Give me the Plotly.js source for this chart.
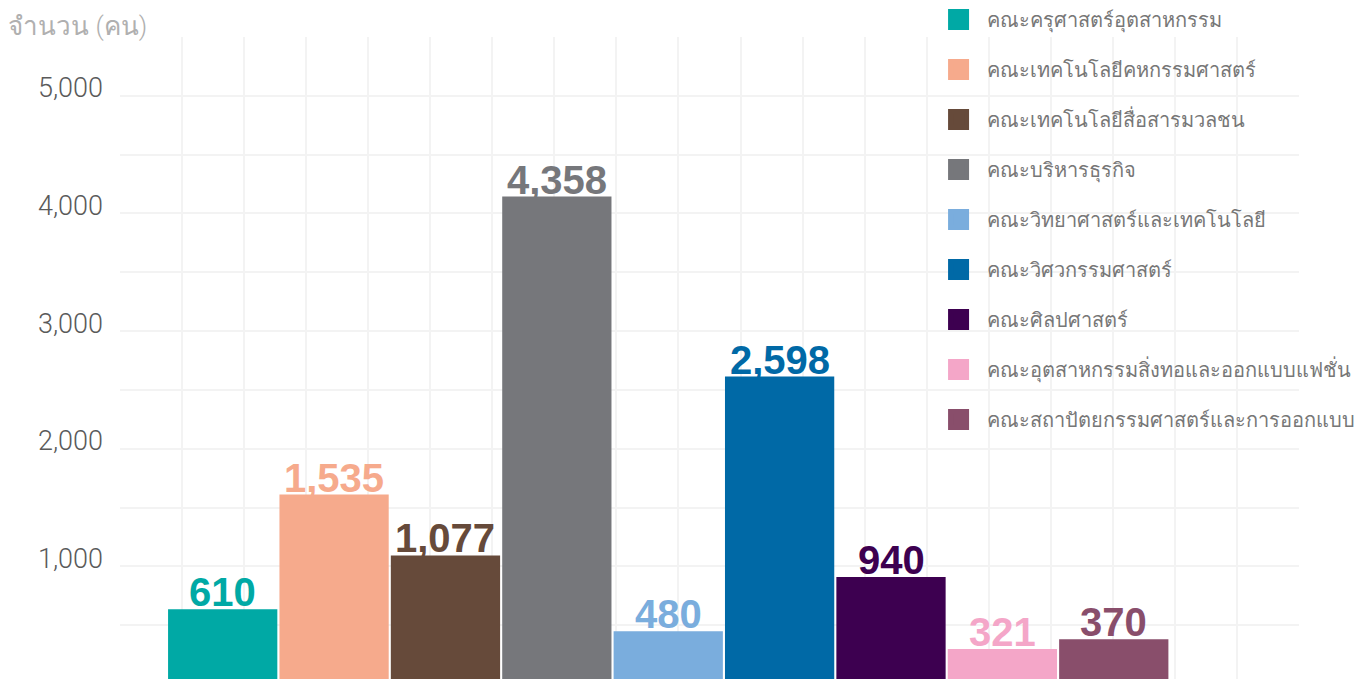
<!DOCTYPE html>
<html>
<head>
<meta charset="utf-8">
<script src="https://cdn.plot.ly/plotly-3.0.1.min.js"></script>
<style>html,body{margin:0;padding:0;background:#fff;overflow:hidden;}#chart{width:1368px;height:679px;}</style>
</head>
<body>
<div id="chart"></div>
<script>
// Faculties (legend order)
const faculties = [
  'คณะครุศาสตร์อุตสาหกรรม',
  'คณะเทคโนโลยีคหกรรมศาสตร์',
  'คณะเทคโนโลยีสื่อสารมวลชน',
  'คณะบริหารธุรกิจ',
  'คณะวิทยาศาสตร์และเทคโนโลยี',
  'คณะวิศวกรรมศาสตร์',
  'คณะศิลปศาสตร์',
  'คณะอุตสาหกรรมสิ่งทอและออกแบบแฟชั่น',
  'คณะสถาปัตยกรรมศาสตร์และการออกแบบ'
];
// printed value labels
const labelValues = [610, 1535, 1077, 4358, 480, 2598, 940, 321, 370];
// bar heights
const barValues = [636, 1610, 1093, 4144, 449, 2613, 909, 297, 381];
const colors = ['#00A9A5', '#F6AA8C', '#664A3A', '#76777B', '#7AADDD', '#0069A6', '#3D0050', '#F4A6C8', '#894E6B'];
const yTickVals = [500, 1000, 1500, 2000, 2500, 3000, 3500, 4000, 4500, 5000, 5500];
const yTickText = ['', '1,000', '', '2,000', '', '3,000', '', '4,000', '', '5,000', ''];
const yTitle = 'จำนวน (คน)';

const traces = [];
faculties.forEach((f, i) => {
  traces.push({
    type: 'bar', x: [f], y: [barValues[i]], name: f,
    marker: {color: colors[i]}, showlegend: false, hoverinfo: 'name+y'
  });
});
faculties.forEach((f, i) => {
  traces.push({
    type: 'scatter', mode: 'markers', x: [null], y: [null], name: f,
    xaxis: 'x2', legendgroup: 'g' + i,
    marker: {symbol: 'square', size: 16, color: colors[i], line: {color: colors[i], width: 5}}
  });
});

const annotations = faculties.map((f, i) => ({
  x: f, y: barValues[i], xref: 'x', yref: 'y',
  text: labelValues[i].toLocaleString('en-US'),
  showarrow: false, yanchor: 'bottom', xanchor: 'center', yshift: -7,
  font: {family: 'Liberation Sans, Arial, sans-serif', size: 40, weight: 'bold', color: colors[i]}
}));

const layout = {
  width: 1368, height: 679,
  margin: {l: 120, r: 69, t: 35, b: 0, pad: 0},
  paper_bgcolor: '#ffffff', plot_bgcolor: '#ffffff',
  barmode: 'relative', bargap: 0.019,
  showlegend: true,
  title: {text: yTitle, x: 0.006, xanchor: 'left', xref: 'container', y: 0.962, yanchor: 'middle', yref: 'container',
    font: {family: 'Roboto, sans-serif', size: 26, weight: 300, color: '#b0b0b0'}},
  xaxis: {type: 'category', range: [-0.922, 9.663], showgrid: false, showticklabels: false, zeroline: false, showline: false, fixedrange: true},
  xaxis2: {overlaying: 'x', range: [0, 19], dtick: 1, tick0: 0, showgrid: true, gridcolor: '#f3f3f3', gridwidth: 2,
    showticklabels: false, zeroline: false, showline: false, ticks: ''},
  yaxis: {range: [42.4, 5500], tickvals: yTickVals, ticktext: yTickText, showgrid: true, gridcolor: '#f3f3f3', gridwidth: 2,
    zeroline: false, showline: false, ticks: '', ticklabelstandoff: 16, ticklabelshift: -8,
    tickfont: {family: 'Roboto, sans-serif', size: 27, weight: 300, color: '#5a5a5a'}},
  legend: {x: 0.6875, xanchor: 'left', y: 1.0575, yanchor: 'top', bgcolor: 'rgba(0,0,0,0)', maxheight: 800,
    itemwidth: 46, tracegroupgap: 21, font: {family: 'Noto Sans, sans-serif', size: 20, weight: 300, color: '#777777'}},
  annotations: annotations
};

Plotly.newPlot('chart', traces, layout, {displayModeBar: false});
</script>
</body>
</html>
